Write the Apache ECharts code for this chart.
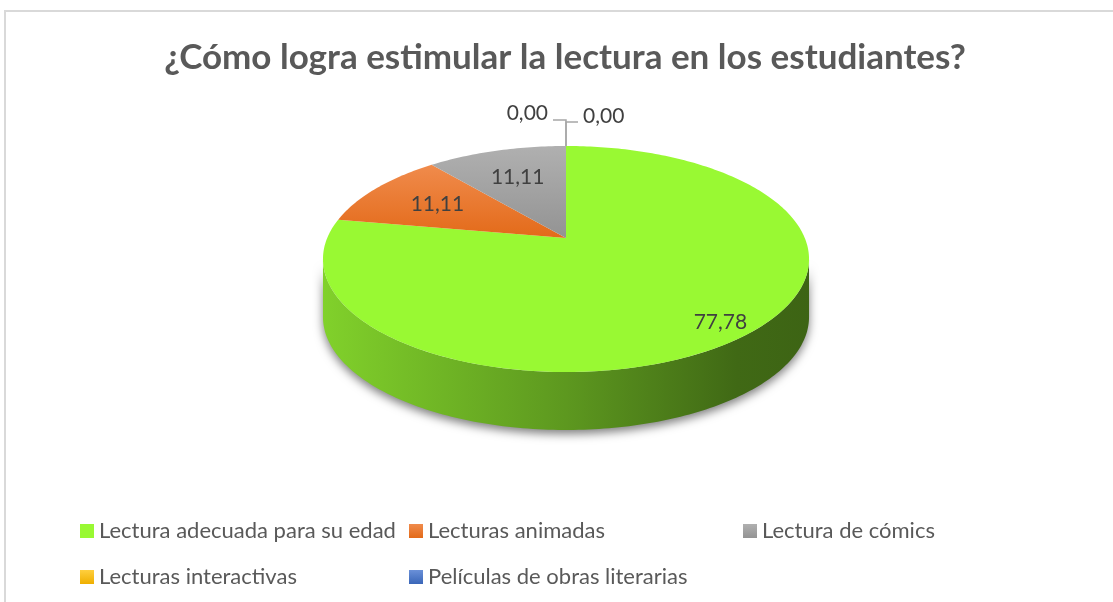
<!DOCTYPE html>
<html>
<head>
<meta charset="utf-8">
<script src="https://cdn.jsdelivr.net/npm/echarts@6/dist/echarts.min.js"></script>
<style>
  html, body { margin: 0; padding: 0; background: #ffffff; }
  #chart { width: 1113px; height: 602px; }
</style>
</head>
<body>
<div id="chart"></div>
<script>
// Survey answers (percent of respondents)
const categories = [
  'Lectura adecuada para su edad',
  'Lecturas animadas',
  'Lectura de cómics',
  'Lecturas interactivas',
  'Películas de obras literarias'
];
const values = [77.78, 11.11, 11.11, 0.00, 0.00];
const titleText = '¿Cómo logra estimular la lectura en los estudiantes?';

// Slice fills: light (top) and dark (bottom) end of each vertical gradient
const sliceTop    = ['#99f933', '#f08b4c', '#b0b0b0', '#ffcf3f', '#6a90d8'];
const sliceBottom = ['#99f933', '#e36a19', '#939393', '#efaf00', '#3a66b8'];

// Tilted-disc projection (a plane homography: circle -> ellipse seen in perspective)
const CX = 566, CY = 238, RX = 238.8, RYK = 64.9, PERSP = 0.1858, DEPTH = 58;
function proj(phi, r) {
  const u = r * Math.sin(phi), v = r * Math.cos(phi);
  const w = 1 + PERSP * v;
  return [CX + RX * u / w, (CY - RYK * v) / w];
}
// angular range where the outer wall faces the viewer
const VIS0 = Math.acos(-PERSP), VIS1 = 2 * Math.PI - Math.acos(-PERSP);

function fmt(v) { return v.toFixed(2).replace('.', ','); }
function shade(hex, f) {
  const n = parseInt(hex.slice(1), 16);
  const r = Math.round(((n >> 16) & 255) * f), g = Math.round(((n >> 8) & 255) * f), b = Math.round((n & 255) * f);
  return 'rgb(' + r + ',' + g + ',' + b + ')';
}
function vGrad(top, bottom) {
  return { type: 'linear', x: 0, y: 0, x2: 0, y2: 1,
    colorStops: [{ offset: 0, color: top }, { offset: 1, color: bottom }] };
}
function arc(a0, a1, r, dy) {
  const pts = [];
  const n = Math.max(2, Math.ceil(Math.abs(a1 - a0) / (Math.PI / 180)));
  for (let k = 0; k <= n; k++) {
    const p = proj(a0 + (a1 - a0) * k / n, r);
    pts.push([p[0], p[1] + (dy || 0)]);
  }
  return pts;
}

const total = values.reduce((s, v) => s + v, 0);
const LABEL_FONT = '21px Lato';

function renderSlice(params, api) {
  const i = params.dataIndex;
  const val = api.value(0);
  let before = 0;
  for (let j = 0; j < i; j++) before += values[j];
  const a0 = before / total * 2 * Math.PI;
  const a1 = (before + val) / total * 2 * Math.PI;
  const children = [];

  if (val > 0) {
    // outer wall (front half only)
    const s0 = Math.max(a0, VIS0), s1 = Math.min(a1, VIS1);
    if (s1 > s0) {
      const pts = arc(s0, s1, 1, 0).concat(arc(s1, s0, 1, DEPTH));
      const base = sliceTop[i];
      children.push({
        type: 'polygon', z2: 1,
        shape: { points: pts },
        style: {
          fill: { type: 'linear', x: CX - RX * 1.02, y: 0, x2: CX + RX * 1.02, y2: 0, global: true,
            colorStops: [
              { offset: 0, color: shade(base, 0.84) },
              { offset: 0.5, color: shade(base, 0.61) },
              { offset: 0.85, color: shade(base, 0.42) },
              { offset: 1, color: shade(base, 0.40) }
            ] },
          shadowBlur: 10, shadowColor: 'rgba(0,0,0,0.5)', shadowOffsetY: 4
        }
      });
    }
    // top face
    const face = [proj(0, 0)].concat(arc(a0, a1, 1, 0));
    children.push({
      type: 'polygon', z2: 10,
      shape: { points: face },
      style: { fill: vGrad(sliceTop[i], sliceBottom[i]) }
    });
    // value label inside the slice
    const frac = val / total;
    const lp = proj((a0 + a1) / 2, frac > 0.5 ? 0.88 : 0.66);
    children.push({
      type: 'text', z2: 20,
      x: lp[0], y: lp[1],
      style: { text: fmt(val), fill: '#404040', font: LABEL_FONT, align: 'center', verticalAlign: 'middle' }
    });
  } else {
    // zero-size slices: outside label with an elbow leader, alternating sides
    let zeroOrder = 0;
    for (let j = 0; j < i; j++) if (values[j] === 0) zeroOrder++;
    const p = proj(a0, 1);
    const left = zeroOrder % 2 === 0;
    const elbowY = p[1] - (left ? 26 : 24);
    children.push({
      type: 'polyline', z2: 15,
      shape: { points: [[p[0], p[1]], [p[0], elbowY], [p[0] + (left ? -13 : 12), elbowY]] },
      style: { stroke: '#a6a6a6', lineWidth: 1.5, fill: null }
    });
    children.push({
      type: 'text', z2: 20,
      x: p[0] + (left ? -18 : 17), y: p[1] - (left ? 33 : 30),
      style: { text: fmt(val), fill: '#404040', font: LABEL_FONT, align: left ? 'right' : 'left', verticalAlign: 'middle' }
    });
  }
  return { type: 'group', children };
}

const legendItems = categories.map((name, i) => ({
  name: name, value: values[i],
  itemStyle: { color: vGrad(sliceTop[i], sliceBottom[i]) }
}));

function legendCol(names, left) {
  return {
    data: names, orient: 'vertical', left: left, top: 520, padding: 0,
    icon: 'rect', itemWidth: 14, itemHeight: 14, itemGap: 24,
    selectedMode: false,
    textStyle: { color: '#595959', fontFamily: 'Lato', fontSize: 22, lineHeight: 22 }
  };
}

const chart = echarts.init(document.getElementById('chart'), null, { renderer: 'canvas' });
chart.setOption({
  backgroundColor: '#ffffff',
  animation: false,
  title: {
    text: titleText, left: 565, textAlign: 'center', top: 40, padding: 0,
    textStyle: { color: '#595959', fontFamily: 'Lato', fontWeight: 'bold', fontSize: 35 }
  },
  legend: [
    legendCol([categories[0], categories[3]], 80),
    legendCol([categories[1], categories[4]], 409),
    legendCol([categories[2]], 743)
  ],
  graphic: [{
    type: 'rect', silent: true, z: -1,
    shape: { x: 5, y: 11, width: 1300, height: 800 },
    style: { fill: null, stroke: '#d9d9d9', lineWidth: 2 }
  }],
  series: [
    {
      // carries the category names/colours for the legend
      type: 'pie', radius: [0, 0], silent: true,
      label: { show: false }, labelLine: { show: false },
      data: legendItems
    },
    {
      type: 'custom', coordinateSystem: 'none',
      renderItem: renderSlice,
      data: values.map((v, i) => ({ name: categories[i], value: [v] }))
    }
  ]
});
</script>
</body>
</html>
